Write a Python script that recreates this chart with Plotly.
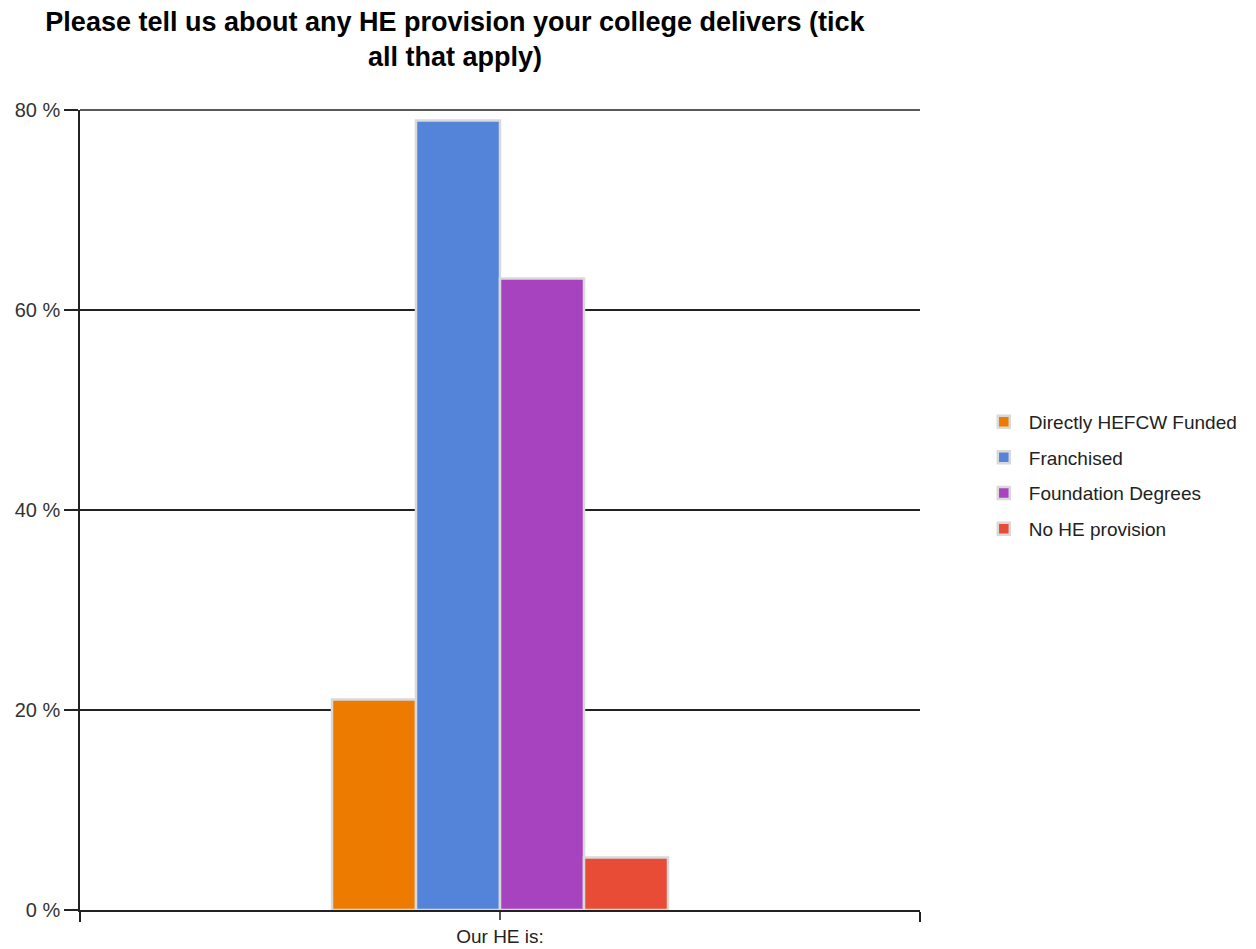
import plotly.graph_objects as go

# Survey responses (share of colleges, %)
category = ["Our HE is:"]
series_names = ["Directly HEFCW Funded", "Franchised", "Foundation Degrees", "No HE provision"]
series_values = [21.05, 78.95, 63.16, 5.26]
series_colors = ["#EC7B00", "#5483DA", "#A843C0", "#E84B36"]

y_tick_values = [0, 20, 40, 60, 80]
y_tick_text = ["0 %", "20 %", "40 %", "60 %", "80 %"]

fig = go.Figure()
for name, val, col in zip(series_names, series_values, series_colors):
    fig.add_trace(go.Bar(
        x=category,
        y=[val],
        name=name,
        legendgroup=name,
        marker=dict(color=col, line=dict(color="#D9D9D9", width=2.5)),
    ))

# extra tick under the category centre
fig.add_shape(
    type="line", xref="x", yref="paper", x0=0, x1=0,
    y0=0, y1=-0.0125,
    line=dict(color="#222222", width=1.5),
)
# grid line along the top of the plot (plotly skips it at the range edge)
fig.add_shape(
    type="line", xref="paper", yref="paper", x0=0, x1=1,
    y0=1, y1=1,
    line=dict(color="#222222", width=1.5), layer="below",
)

fig.update_layout(
    width=1256, height=949,
    paper_bgcolor="white", plot_bgcolor="white",
    font=dict(family="Liberation Sans, Arial, sans-serif", size=19, color="#222222"),
    title=dict(
        text="<b>Please tell us about any HE provision your college delivers (tick<br>all that apply)</b>",
        x=455 / 1256, xref="container", xanchor="center",
        y=1 - 30.5 / 949, yref="container", yanchor="middle",
        font=dict(size=27, color="#000000"),
    ),
    margin=dict(l=80, r=336, t=110, b=39),
    barmode="group",
    bargap=0.6,
    bargroupgap=0,
    showlegend=True,
    legend=dict(
        x=1.07, y=0.634, xanchor="left", yanchor="top",
        font=dict(size=19, color="#222222"),
        traceorder="grouped",
        tracegroupgap=8,
        itemwidth=40,
    ),
    xaxis=dict(
        automargin=False,
        showline=True, linecolor="#222222", linewidth=1.5,
        ticks="outside", tickson="boundaries", ticklen=10, tickcolor="#222222", tickwidth=1.5,
        showgrid=False,
        ticklabelstandoff=8,
        tickfont=dict(size=19, color="#222222"),
    ),
    yaxis=dict(
        automargin=False,
        range=[0, 80],
        tickvals=y_tick_values,
        ticktext=y_tick_text,
        showline=True, linecolor="#222222", linewidth=1.5,
        ticks="outside", ticklen=14, tickcolor="#222222", tickwidth=1.5,
        showgrid=True, gridcolor="#222222", gridwidth=1.5,
        zeroline=False,
        tickfont=dict(size=20, color="#333333"),
    ),
)

fig.write_html("out.html")
